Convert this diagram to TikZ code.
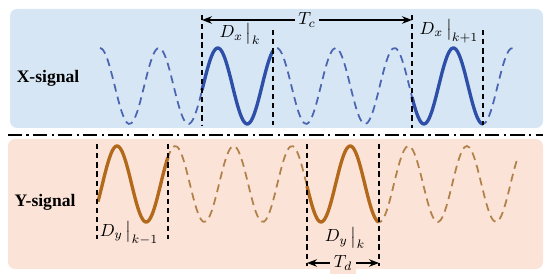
\documentclass[tikz,border=0pt]{standalone}
\usepackage{fontspec}
\setmainfont{Liberation Serif}
\usetikzlibrary{arrows.meta}

\definecolor{xpanel}{HTML}{D7E6F4}
\definecolor{ypanel}{HTML}{FCE3D7}
\definecolor{xwave}{HTML}{2D4FA8}
\definecolor{xdash}{HTML}{4A65B2}
\definecolor{ywave}{HTML}{B3691C}
\definecolor{ydash}{HTML}{B0824A}

\begin{document}
\begin{tikzpicture}[
    x=0.02cm, y=-0.02cm,
    every node/.style={font=\normalsize},
    panel/.style={rounded corners=4pt},
    dashwave/.style={line width=1pt, dash pattern=on 4.5pt off 3pt, samples=160, smooth},
    solidwave/.style={line width=1.9pt, samples=60, smooth},
    marker/.style={line width=1.1pt, dash pattern=on 3pt off 2.2pt},
    divider/.style={line width=1.4pt, dash pattern=on 8pt off 2.5pt on 1.3pt off 2.5pt},
    span/.style={{Stealth[length=2mm]}-{Stealth[length=2mm]}, line width=0.6pt},
    sig/.style={font=\bfseries}
]
\useasboundingbox (0,0) rectangle (550,279);

% panels
\fill[panel, xpanel] (10,9) rectangle (543,128);
\fill[panel, ypanel] (8,139) rectangle (543,269);
\coordinate (divL) at (8,135);
\coordinate (divR) at (543,135);
\draw[divider] (divL) -- (divR);

% signals
\node[sig] (xsig) at (48,78) {X-signal};
\node[sig] (ysig) at (45,202) {Y-signal};

% X waves
\draw[xdash, dashwave, domain=100:516] plot (\x, {86-38*cos(6.1121*(\x-100))});
\draw[xwave, solidwave, domain=202:273] plot (\x, {86-38*cos(6.1121*(\x-100))});
\draw[xwave, solidwave, domain=412:483] plot (\x, {86-38*cos(6.1121*(\x-100))});

% Y waves
\draw[ydash, dashwave, domain=98:517] plot (\x, {184-38*cos(6.175*(\x-117))});
\draw[ywave, solidwave, domain=98:168] plot (\x, {184-38*cos(6.175*(\x-117))});
\draw[ywave, solidwave, domain=307:379] plot (\x, {184-38*cos(6.175*(\x-117))});

% markers, X
\coordinate (xk top) at (202,15);   \coordinate (xk bot) at (202,125);
\coordinate (xk end top) at (273,30); \coordinate (xk end bot) at (273,125);
\coordinate (xn top) at (412,15);   \coordinate (xn bot) at (412,128);
\coordinate (xn end top) at (483,30); \coordinate (xn end bot) at (483,125);
\draw[marker] (xk top) -- (xk bot);
\draw[marker] (xk end top) -- (xk end bot);
\draw[marker] (xn top) -- (xn bot);
\draw[marker] (xn end top) -- (xn end bot);

% markers, Y
\coordinate (yp top) at (97,144);   \coordinate (yp bot) at (97,239);
\coordinate (yp end top) at (168,144); \coordinate (yp end bot) at (168,239);
\coordinate (yk top) at (307,144);  \coordinate (yk bot) at (307,266);
\coordinate (yk end top) at (379,144); \coordinate (yk end bot) at (379,266);
\draw[marker] (yp top) -- (yp bot);
\draw[marker] (yp end top) -- (yp end bot);
\draw[marker] (yk top) -- (yk bot);
\draw[marker] (yk end top) -- (yk end bot);

% periods
\coordinate (tcL) at (202,20);
\coordinate (tcR) at (412,20);
\draw[span] (tcL) -- node[fill=xpanel, inner sep=2pt] (tc) {$T_c$} (tcR);
\coordinate (tdL) at (307,263);
\coordinate (tdR) at (379,263);
\draw[span] (tdL) -- node[fill=ypanel, inner sep=2pt] (td) {$T_d$} (tdR);

% labels
\node (dxk) at (240,34) {$D_x\,\big|_k$};
\node (dxn) at (449,31) {$D_x\,\big|_{k+1}$};
\node (dyp) at (129,233) {$D_y\,\big|_{k-1}$};
\node (dyk) at (345,238) {$D_y\,\big|_k$};
\end{tikzpicture}
\end{document}
